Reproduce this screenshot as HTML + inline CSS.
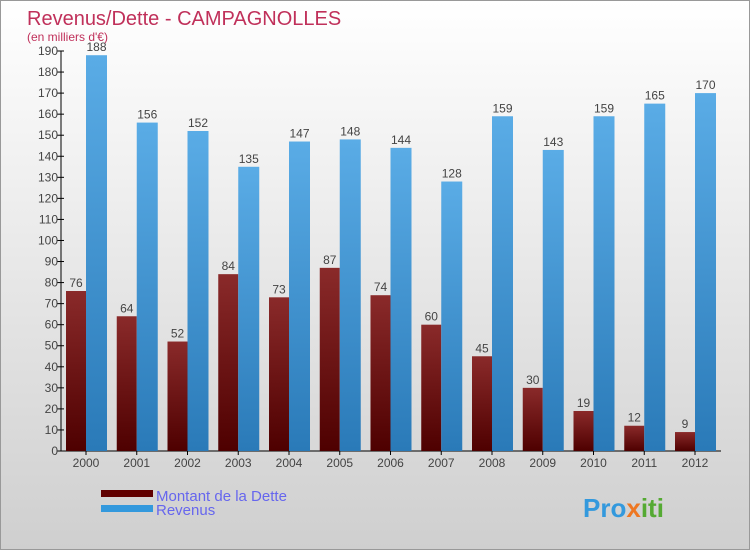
<!DOCTYPE html>
<html><head><meta charset="utf-8"><style>
body{margin:0;width:750px;height:550px;overflow:hidden;font-family:"Liberation Sans",sans-serif}
#c{position:absolute;left:0;top:0;width:748px;height:548px;border:1px solid #999;background:linear-gradient(#ffffff,#cfcfcf)}
</style></head><body>
<div id="c">
<svg id="s" width="750" height="550">
<defs>
<linearGradient id="gd" x1="0" y1="0" x2="0" y2="1"><stop offset="0" stop-color="#8a2a2a"/><stop offset="1" stop-color="#4e0000"/></linearGradient>
<linearGradient id="gr" x1="0" y1="0" x2="0" y2="1"><stop offset="0" stop-color="#5aace6"/><stop offset="1" stop-color="#2a7ab8"/></linearGradient>
</defs>
<text x="26" y="24" font-size="20" fill="#c0305a">Revenus/Dette - CAMPAGNOLLES</text>
<text x="26" y="40" font-size="12" fill="#c0305a">(en milliers d'€)</text>
<g id="g"></g>
<rect x="100" y="489" width="52" height="7" fill="#600000"/>
<rect x="100" y="504" width="52" height="7" fill="#3399dd"/>
<text x="155" y="500" font-size="15" fill="#6666ee">Montant de la Dette</text>
<text x="155" y="514" font-size="15" fill="#6666ee">Revenus</text>
<text x="582" y="516" font-size="26" font-weight="bold" fill="#3399dd"><tspan fill="#3399dd">Pro</tspan><tspan fill="#ee7722">x</tspan><tspan fill="#55aa33">iti</tspan></text>
</svg></div>
<script>
const years=["2000","2001","2002","2003","2004","2005","2006","2007","2008","2009","2010","2011","2012"];
const dette=[76,64,52,84,73,87,74,60,45,30,19,12,9];
const revenus=[188,156,152,135,147,148,144,128,159,143,159,165,170];
const yTicks=[0,10,20,30,40,50,60,70,80,90,100,110,120,130,140,150,160,170,180,190];
const NS="http://www.w3.org/2000/svg";
const g=document.getElementById('g');
const y=v=>450-v*400/190;
const xc=i=>85+i*50.75;
function mk(t,a,txt){const e=document.createElementNS(NS,t);for(const k in a)e.setAttribute(k,a[k]);if(txt!==undefined)e.textContent=txt;g.appendChild(e);return e;}
const ax=mk('line',{x1:60,y1:50,x2:60,y2:450,stroke:'#000'});


const bx=mk('line',{x1:60,y1:450,x2:720,y2:450,stroke:'#000'});


yTicks.forEach(v=>{
 const t=mk('line',{x1:56,y1:y(v),x2:63,y2:y(v),stroke:'#000'});
 
 
 const l=mk('text',{x:57,y:y(v)+4,'font-size':12,'text-anchor':'end',fill:'#444'},v);
 
 
});
years.forEach((yr,i)=>{
 const c=xc(i);
 const t=mk('line',{x1:c,y1:450,x2:c,y2:454,stroke:'#000'});
 
 
 const l=mk('text',{x:c,y:466,'font-size':12,'text-anchor':'middle',fill:'#444'},yr);
 
 
 const d=mk('rect',{x:c-20,y:y(dette[i]),width:20,height:450-y(dette[i]),fill:'url(#gd)'});
 
 
 const dl=mk('text',{x:c-10,y:y(dette[i])-4,'font-size':12,'text-anchor':'middle',fill:'#444'},dette[i]);
 
 
 const r=mk('rect',{x:c,y:y(revenus[i]),width:21,height:450-y(revenus[i]),fill:'url(#gr)'});
 
 
 const rl=mk('text',{x:c+10.5,y:y(revenus[i])-4,'font-size':12,'text-anchor':'middle',fill:'#444'},revenus[i]);
 
 
});
</script>
</body></html>
